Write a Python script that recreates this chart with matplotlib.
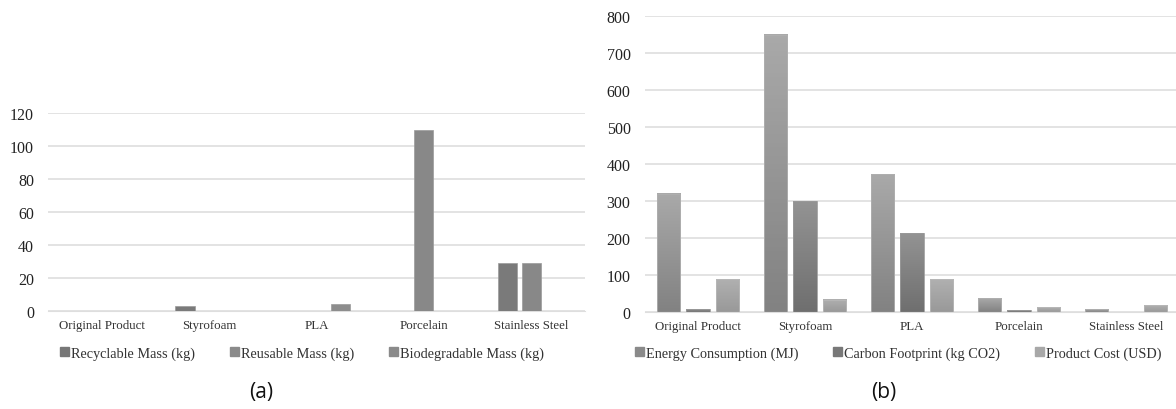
import numpy as np
import matplotlib
matplotlib.use('Agg')
import matplotlib.pyplot as plt
from matplotlib.colors import LinearSegmentedColormap
from matplotlib.patches import Patch

categories = ['Original Product', 'Styrofoam', 'PLA', 'Porcelain', 'Stainless Steel']

# panel (a) - mass (kg)
recyclable = [0, 3, 0, 0, 29]
reusable = [0, 0, 0, 110, 29]
biodegradable = [0, 0, 4, 0, 0]
mass_labels = ['Recyclable Mass (kg)', 'Reusable Mass (kg)', 'Biodegradable Mass (kg)']

# panel (b) - impact
energy = [320, 750, 372, 37, 7]
carbon = [7, 300, 213, 5, 0]
cost = [88, 33, 88, 13, 18]
impact_labels = ['Energy Consumption (MJ)', 'Carbon Footprint (kg CO2)', 'Product Cost (USD)']

serif = 'Liberation Serif'
grid_col = '#dedede'


def style_axis(ax, ymax, step):
    ax.set_ylim(0, ymax)
    ax.set_yticks(np.arange(0, ymax + 1, step))
    ax.set_xlim(-0.5, len(categories) - 0.5)
    ax.set_xticks(range(len(categories)))
    ax.set_xticklabels(categories, fontfamily=serif, fontsize=9.3, color='#333333')
    for lab in ax.get_yticklabels():
        lab.set_fontfamily(serif)
        lab.set_fontsize(11.5)
        lab.set_color('#222222')
    ax.tick_params(length=0, pad=6)
    ax.tick_params(axis='y', pad=10)
    for s in ['top', 'right', 'left']:
        ax.spines[s].set_visible(False)
    ax.spines['bottom'].set_color(grid_col)
    ax.yaxis.grid(True, color=grid_col, linewidth=1.2)
    ax.set_axisbelow(True)


def gradient_bars(ax, x, vals, width, top, bottom, edge):
    cmap = LinearSegmentedColormap.from_list('g', [bottom, top])
    grad = np.linspace(0, 1, 64).reshape(-1, 1)
    for xi, v in zip(x, vals):
        if v <= 0:
            continue
        ax.imshow(grad, extent=[xi - width / 2, xi + width / 2, 0, v], origin='lower',
                  cmap=cmap, aspect='auto', zorder=2)
        ax.bar(xi, v, width=width, facecolor='none', edgecolor=edge, linewidth=0.6, zorder=3)


fig = plt.figure(figsize=(11.76, 4.10), dpi=100)

# ---- (a)
ax1 = fig.add_axes([48 / 1176, 1 - 312 / 410, 537 / 1176, 198 / 410])
x = np.arange(len(categories))
off_a, w_a = 0.224, 0.178
mass_cols = ['#7a7a7a', '#888888', '#8d8d8d']
for i, vals in enumerate([recyclable, reusable, biodegradable]):
    ax1.bar(x + (i - 1) * off_a, vals, width=w_a, color=mass_cols[i],
            edgecolor='#9a9a9a', linewidth=0.5, zorder=3)
style_axis(ax1, 120, 20)

h1 = [Patch(color=c) for c in ['#777777', '#8a8a8a', '#8a8a8a']]
fig.legend(h1, mass_labels, loc='center', bbox_to_anchor=(302 / 1176, 1 - 354 / 410),
           ncol=3, frameon=False, prop={'family': serif, 'size': 10.3},
           handlelength=0.65, handleheight=0.65, handletextpad=0.15, columnspacing=2.4,
           labelcolor='#333333')
fig.text(261 / 1176, 1 - 393 / 410, '(a)', family='Open Sans', fontsize=15,
         ha='center', va='center', color='#111111')

# ---- (b)
ax2 = fig.add_axes([644.5 / 1176, 1 - 313 / 410, 535 / 1176, 296 / 410])
off_b, w_b = 0.276, 0.215
gradient_bars(ax2, x - off_b, energy, w_b, '#a9a9a9', '#828282', '#b0b0b0')
gradient_bars(ax2, x, carbon, w_b, '#939393', '#6f6f6f', '#9a9a9a')
gradient_bars(ax2, x + off_b, cost, w_b, '#b0b0b0', '#999999', '#b8b8b8')
style_axis(ax2, 800, 100)

h2 = [Patch(color=c) for c in ['#8a8a8a', '#787878', '#a8a8a8']]
fig.legend(h2, impact_labels, loc='center', bbox_to_anchor=(898 / 1176, 1 - 354 / 410),
           ncol=3, frameon=False, prop={'family': serif, 'size': 10.3},
           handlelength=0.65, handleheight=0.65, handletextpad=0.15, columnspacing=2.4,
           labelcolor='#333333')
fig.text(884 / 1176, 1 - 393 / 410, '(b)', family='Open Sans', fontsize=15,
         ha='center', va='center', color='#111111')

fig.savefig('out.png', dpi=100, facecolor='white')
